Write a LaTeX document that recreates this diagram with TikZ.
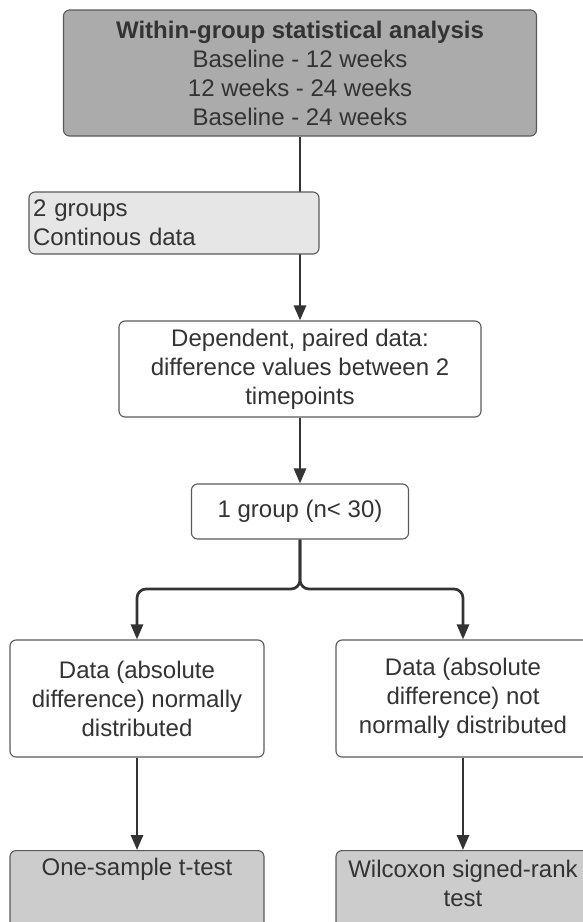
\documentclass[tikz,border=0pt]{standalone}
\usepackage{fontspec}
\setmainfont{Liberation Sans}
\usetikzlibrary{arrows.meta,backgrounds}
\definecolor{txtc}{HTML}{333333}
\definecolor{edgec}{HTML}{5A5A5A}
\definecolor{darkfill}{HTML}{ABABAB}
\definecolor{midfill}{HTML}{CCCCCC}
\definecolor{lightfill}{HTML}{E6E6E6}
\definecolor{connc}{HTML}{333333}
\begin{document}
\begin{tikzpicture}[x=1pt,y=-1pt,
  box/.style={draw=edgec, line width=1.1pt, rounded corners=6pt, inner sep=0pt,
    text=txtc, font=\fontsize{24}{29}\selectfont, align=center},
  lbl/.style={inner sep=0pt, text=txtc, font=\fontsize{24}{29}\selectfont, align=center},
  arrowc/.style={draw=connc, line width=2.7pt, -{Triangle[width=12pt,length=15pt]}}]
\useasboundingbox (0,0) rectangle (583,922);
\clip (0,0) rectangle (583,922);

\node[box, fill=darkfill, minimum width=473pt, minimum height=126pt] (top) at (300,73)
  {\textbf{Within-group statistical analysis}\\Baseline - 12 weeks\\12 weeks - 24 weeks\\Baseline - 24 weeks};
\node[box, fill=lightfill, minimum width=290pt, minimum height=62pt, align=left, text width=282pt] (twog) at (174,223)
  {2 groups\\Continous data};
\node[box, fill=white, minimum width=362pt, minimum height=96pt] (dep) at (300,369)
  {Dependent, paired data:\\difference values between 2\\timepoints};
\node[box, fill=white, minimum width=217pt, minimum height=55pt] (g1) at (300,511.5)
  {1 group (n< 30)};
\node[box, fill=white, minimum width=254pt, minimum height=117pt] (left) at (137,698.5)
  {Data (absolute\\difference) normally\\distributed};
\node[box, fill=white, minimum width=254pt, minimum height=117pt] (right) at (463,698.5)
  {Data (absolute\\difference) not\\normally distributed};
\node[box, fill=midfill, minimum width=254pt, minimum height=90pt, anchor=north] (bl) at (137,850) {};
\node[box, fill=midfill, minimum width=254pt, minimum height=90pt, anchor=north] (br) at (463,850) {};
\node[lbl] (blt) at (137,869) {One-sample t-test};
\node[lbl] (brt) at (463,883) {Wilcoxon signed-rank\\test};

\coordinate (split) at (300,589);
\begin{scope}[on background layer]
\draw[arrowc] (top) -- (dep);
\end{scope}
\draw[arrowc] (dep) -- (g1);
\draw[arrowc, rounded corners=9pt] (g1.south) -- (g1.south |- split) -| (left.north);
\draw[arrowc, rounded corners=9pt] (g1.south) -- (g1.south |- split) -| (right.north);
\draw[arrowc] (left) -- (bl);
\draw[arrowc] (right) -- (br);
\end{tikzpicture}
\end{document}
